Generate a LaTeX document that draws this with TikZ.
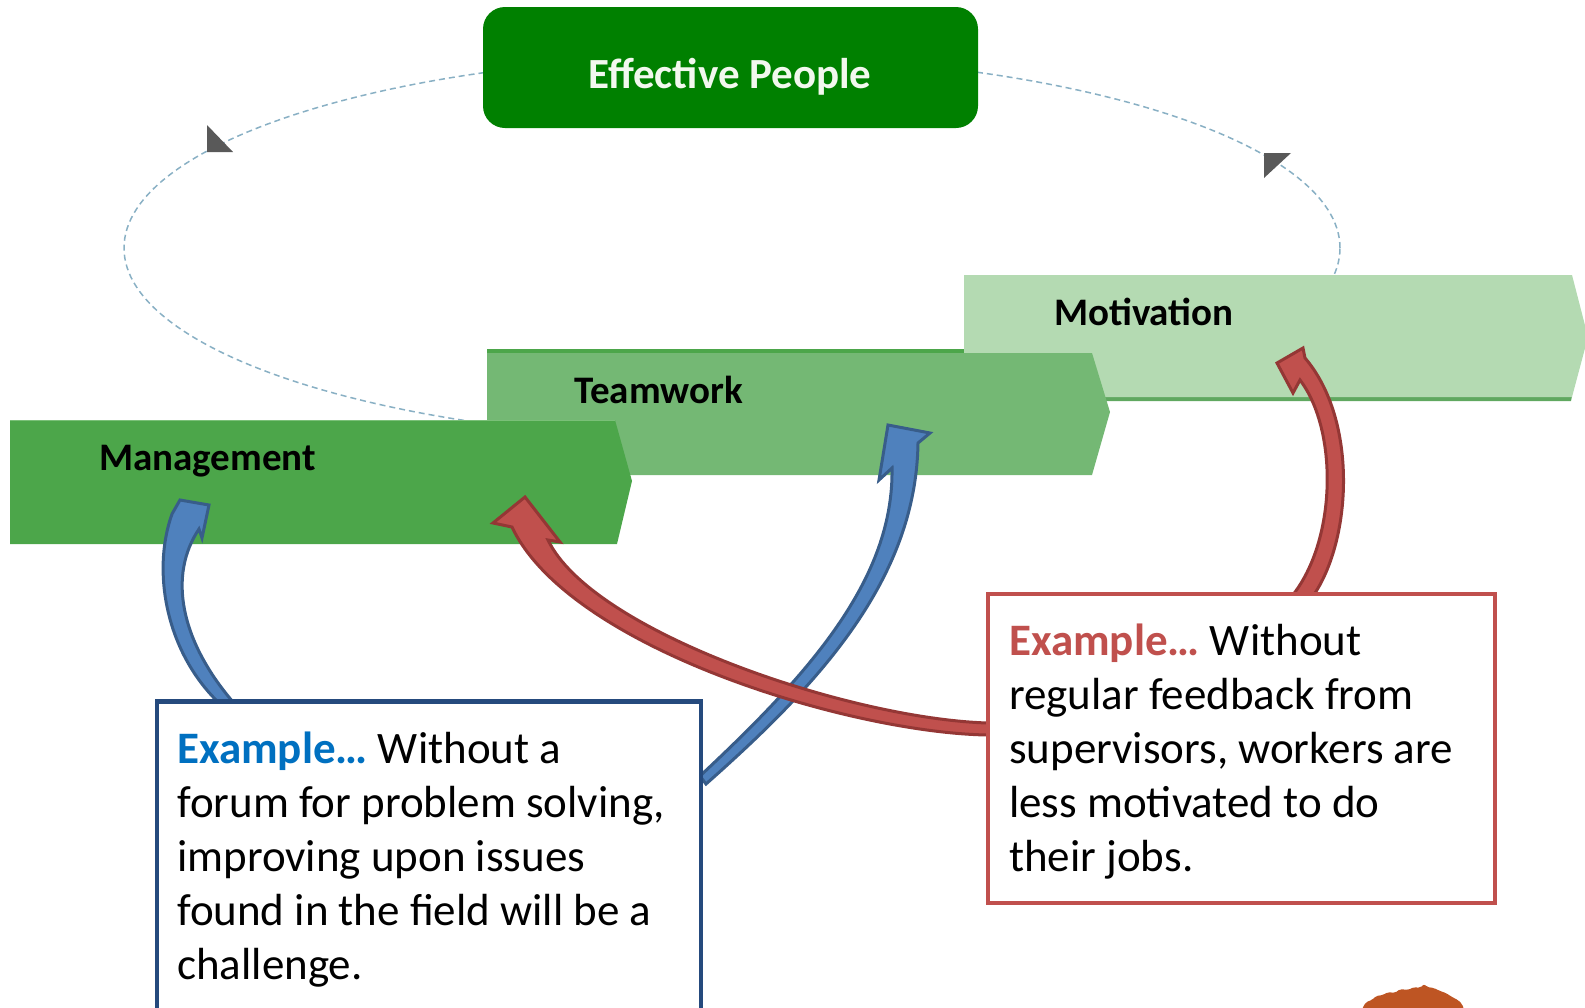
\documentclass[tikz,border=0pt]{standalone}
\usepackage{fontspec}
\setmainfont{Carlito}
\definecolor{ringc}{RGB}{137,176,196}
\definecolor{tipgray}{RGB}{89,89,89}
\definecolor{headgreen}{RGB}{0,128,0}
\definecolor{headtext}{RGB}{242,248,238}
\definecolor{mgmt}{RGB}{76,166,74}
\definecolor{mgmtedge}{RGB}{122,192,120}
\definecolor{team}{RGB}{116,184,116}
\definecolor{motiv}{RGB}{180,218,178}
\definecolor{motivedge}{RGB}{96,168,96}
\definecolor{bluefill}{RGB}{79,129,189}
\definecolor{blueout}{RGB}{56,93,138}
\definecolor{redfill}{RGB}{192,80,77}
\definecolor{redout}{RGB}{148,55,53}
\definecolor{bluebd}{RGB}{37,74,125}
\definecolor{redbd}{RGB}{192,80,77}
\definecolor{exblue}{RGB}{0,112,192}
\definecolor{exred}{RGB}{192,80,77}
\definecolor{foliage}{RGB}{190,85,35}
\begin{document}
\begin{tikzpicture}[x=1pt,y=-1pt,
  ring/.style={draw=ringc, line width=1.5pt, dash pattern=on 6pt off 4pt},
  ringtip/.style={fill=tipgray},
  stage/.style={font=\fontsize{39}{47}\selectfont\bfseries, anchor=base west, inner sep=0pt, text=black},
  headbox/.style={fill=headgreen, rounded corners=22pt, minimum width=495pt, minimum height=121pt, inner sep=0pt},
  headlabel/.style={font=\fontsize{43}{52}\selectfont\bfseries, text=headtext, anchor=base, inner sep=0pt},
  bluearrow/.style={fill=bluefill, draw=blueout, line width=3pt, line join=miter},
  redarrow/.style={fill=redfill, draw=redout, line width=3pt, line join=miter},
  bluepanel/.style={draw=bluebd, line width=4.5pt, fill=white, minimum width=544pt, minimum height=330pt, inner sep=0pt},
  redpanel/.style={draw=redbd, line width=4pt, fill=white, minimum width=507pt, minimum height=309pt, inner sep=0pt},
  body/.style={font=\fontsize{45}{54}\selectfont, anchor=north west, inner sep=0pt, align=left}
]
\useasboundingbox (0,0) rectangle (1585,1007);
\clip (0,0) rectangle (1585,1007);

% dashed cycle behind everything
\draw[ring] (732,248) ellipse [x radius=608pt, y radius=192pt];
\fill[ringtip] (207,125) -- (207,152) -- (233,152) -- cycle;
\fill[ringtip] (1264,153) -- (1291,153) -- (1264,178) -- cycle;

% stage bands (back to front)
\fill[motivedge] (1092,396) -- (1572,396) -- (1571,401) -- (1098,401) -- cycle;
\fill[motiv] (964,275) -- (1572,275) -- (1588,337) -- (1572,397) -- (964,397) -- cycle;
\fill[mgmt] (487,349) rectangle (964,354);
\fill[team] (487,353) -- (1092,353) -- (1110,412) -- (1092,475) -- (487,475) -- cycle;
\fill[mgmt] (10,420) -- (615,420) -- (632,481) -- (617,544) -- (10,544) -- cycle;
\draw[mgmtedge, line width=1.2pt] (10,420.5) -- (615,420.5);

\node[stage] (mgmtlbl) at (99,470) {Management};
\node[stage] (teamlbl) at (574,403) {Teamwork};
\node[stage] (motivlbl) at (1054,325) {Motivation};

% goal box
\node[headbox] (goal) at (730.5,67.5) {};
\node[headlabel] (goallbl) at (730,88) {Effective People};

% curved block arrows
\path[bluearrow] (233,702) .. controls (180,640) and (168,575) .. (199,529)
  -- (202,538) -- (209,505) -- (180,500) -- (172,514)
  .. controls (152,570) and (165,650) .. (218,702) -- cycle;
\path[bluearrow] (706,784) .. controls (818,685) and (916,580) .. (918,443)
  -- (930,433) -- (888,425) -- (879,480) -- (892,468)
  .. controls (894,580) and (808,675) .. (700,776) -- cycle;
\path[redarrow] (1313,596) .. controls (1352,540) and (1358,420) .. (1305,358)
  -- (1303,348) -- (1277,363) -- (1293,393) -- (1300,380)
  .. controls (1338,430) and (1337,540) .. (1292,596) -- cycle;
\path[redarrow] (988,723) .. controls (850,719) and (592,632) .. (548,540)
  -- (560,542) -- (525,497) -- (493,523) -- (512,527)
  .. controls (569,648) and (850,733) .. (988,735) -- cycle;

% example panels
\node[bluepanel] (bluebox) at (429,866.5) {};
\node[body] (bluetext) at (177,725.2) {\strut\textbf{\color{exblue}Example…} Without a\\
forum for problem solving,\\
improving upon issues\\
found in the field will be a\\
challenge.};
\node[redpanel] (redbox) at (1241.5,748.5) {};
\node[body] (redtext) at (1009,617.2) {\strut\textbf{\color{exred}Example…} Without\\
regular feedback from\\
supervisors, workers are\\
less motivated to do\\
their jobs.};

% foliage peeking in at the lower edge
\fill[foliage, rounded corners=2pt] (1362,1009) -- (1366,1002) -- (1372,1000) -- (1376,996) -- (1383,995)
  -- (1388,992) -- (1395,993) -- (1400,989) -- (1408,990) -- (1414,987) -- (1420,988)
  -- (1424,984) -- (1427,987) -- (1434,988) -- (1440,991) -- (1446,993) -- (1452,997)
  -- (1458,1000) -- (1462,1004) -- (1464,1009) -- cycle;
\end{tikzpicture}
\end{document}
